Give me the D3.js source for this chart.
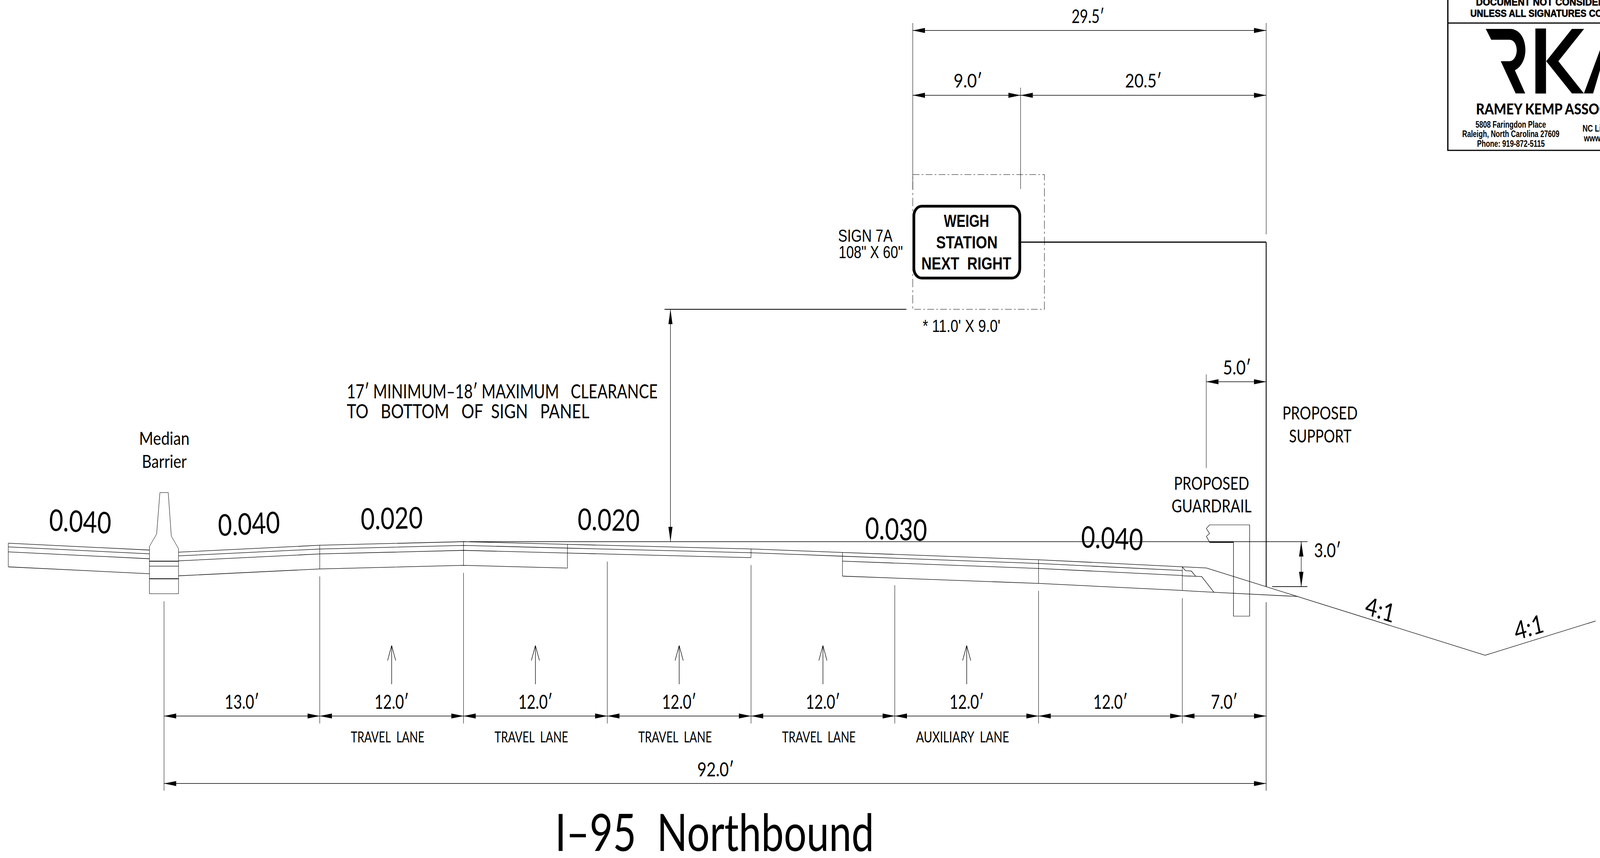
<!DOCTYPE html>
<html>
<head>
<meta charset="utf-8">
<style>
  html, body { margin: 0; padding: 0; background: #fff; overflow: hidden; width: 100%; height: 100%; }
  /* drawn in reference pixels, the viewBox maps them onto whatever window we really get */
  svg { display: block; width: 100vw; height: 100vh; }
  path, line, rect { vector-effect: non-scaling-stroke; }
  rect.dash { vector-effect: none; }
  text { white-space: pre; fill: #000; }
</style>
<script src="https://cdn.jsdelivr.net/npm/d3@7"></script>
</head>
<body>
<svg id="chart" viewBox="0 0 5126 2197" preserveAspectRatio="none"></svg>
<script>
// all lengths below are in feet
const laneWidths = [13, 12, 12, 12, 12, 12, 12, 7]
const laneNames = ['', 'TRAVEL  LANE', 'TRAVEL  LANE', 'TRAVEL  LANE', 'TRAVEL  LANE', 'AUXILIARY  LANE', '', '']
const arrowLanes = [1, 2, 3, 4, 5]
const extensionTops = [-3.98, -2.32, -2.08, -1.33, -1.56, -2.91, -3.28, -3.77, -4.05]

const crossSlopes = [0.04, 0.04, 0.02, 0.02, 0.03, 0.04]
const sideSlopes = ['4:1', '4:1']

const signWidth = 9
const supportOffset = 29.5
const guardrailOffset = 5
const slopeDrop = 3

const leftStations = [-13, -1.22]
const leftTop = [-0.1, -0.56]
const paveStations = [1.21, 13, 25, 33.67, 49, 56.63, 73, 85]
const paveTop = [-0.7, -0.24, 0, -0.18, -0.487, -0.72, -1.206, -1.675]
const layerDepths = [0.25, 0.58, 1.58]

const groundStations = [85, 87.01, 110.27, 119.5]
const groundElev = [-1.675, -1.754, -7.58, -5.29]
const shoulderEdges = [
    [[85, -1.675], [85.26, -1.936]],
    [[85.26, -1.936], [85.75, -1.96], [86.12, -2.31]],
    [[85, -2.275], [86.62, -2.327], [87.64, -3.38]],
    [[85, -3.26], [87.64, -3.38], [94.66, -3.66]]
]

const barrierStations = [-0.344, 0.352, 0.607, 1.21, 1.21, -1.22, -1.22, -0.617]
const barrierElev = [3.275, 3.275, 0.373, -0.469, -3.473, -3.473, -0.32, 0.513]
const barrierJoints = [-1.303, -1.634, -2.475]

const blockoutStations = [89.27, 87.27, 87.01, 87.27, 87.01, 87.27, 90.62, 90.62, 89.27, 89.27]
const blockoutElev = [-0.03, -0.03, 0.35, 0.55, 0.88, 1.12, 1.12, -4.97, -4.97, -0.03]

const signText = ['WEIGH', 'STATION', 'NEXT  RIGHT']

const PX_PER_FT = 38.38
const x = d3.scaleLinear().domain([0, 92]).range([525.5, 4056.5])
const y = d3.scaleLinear().domain([0, -10]).range([1387, 1387 + PX_PER_FT * 10])

const svg = d3.select('#chart')
const g = svg.append('g').attr('fill', 'none').attr('stroke', '#000')

const stations = [0, ...d3.cumsum(laneWidths)]
const ftLabel = d => d3.format('.1f')(d) + '\u2032'
const line = d3.line().x(d => x(d[0])).y(d => y(d[1]))

function seg(x1, y1, x2, y2, w = 1.2) {
    g.append('line')
        .attr('x1', x1).attr('y1', y1).attr('x2', x2).attr('y2', y2)
        .attr('stroke-width', w)
}

function poly(points, w = 1.3) {
    g.append('path').attr('d', line(points)).attr('stroke-width', w)
}

// arrowhead with its tip on (tx, ty), pointing along (dx, dy)
function head(tx, ty, dx, dy, len = 39, half = 6.4) {
    const bx = tx - dx * len, by = ty - dy * len
    const pts = [[tx, ty], [bx - dy * half, by + dx * half], [bx + dy * half, by - dx * half]]
    svg.append('path')
        .attr('d', d3.line()(pts) + 'Z')
        .attr('fill', '#000')
}

function hDim(x0, x1, yy) {
    seg(x0, yy, x1, yy, 1.5)
    head(x0, yy, -1, 0)
    head(x1, yy, 1, 0)
}

// text squeezed into a known run, the drawing font is a narrow CAD one
function label(str, x0, x1, base, cap, opt = {}) {
    const ratio = opt.ratio || 0.72
    svg.append('text')
        .attr('x', x0).attr('y', base)
        .attr('font-family', opt.font || 'Lato')
        .attr('font-weight', opt.weight || 400)
        .attr('font-size', cap / ratio)
        .attr('textLength', x1 - x0)
        .attr('lengthAdjust', 'spacingAndGlyphs')
        .text(str)
}

function tilted(str, cx, cy, w, cap, deg) {
    svg.append('text')
        .attr('transform', `translate(${cx},${cy}) rotate(${deg})`)
        .attr('x', -w / 2).attr('y', cap / 2)
        .attr('font-family', 'Lato')
        .attr('font-size', cap / 0.72)
        .attr('textLength', w)
        .attr('lengthAdjust', 'spacingAndGlyphs')
        .text(str)
}

const arial = { font: 'Liberation Sans', ratio: 0.716 }
const arialBold = { font: 'Liberation Sans', ratio: 0.716, weight: 700 }

// pavement, left of the barrier
const leftPts = d3.zip(leftStations, leftTop)
poly(leftPts)
layerDepths.forEach(dp => poly(leftPts.map(p => [p[0], p[1] - dp])))
poly([[leftStations[0], leftTop[0]], [leftStations[0], leftTop[0] - layerDepths[2]]], 1)

// pavement, right of the barrier
const pave = d3.zip(paveStations, paveTop)
poly(pave)
poly(pave.map(p => [p[0], p[1] - layerDepths[0]]))
poly(pave.slice(0, 5).map(p => [p[0], p[1] - layerDepths[1]]))
poly(pave.slice(5).map(p => [p[0], p[1] - layerDepths[1]]))
poly(pave.slice(0, 4).map(p => [p[0], p[1] - layerDepths[2]]))
poly(pave.slice(5).map(p => [p[0], p[1] - layerDepths[2]]))
pave.slice(1).forEach((p, i) => {
    const dp = paveStations[i + 1] === 49 ? layerDepths[1] : layerDepths[2]
    poly([p, [p[0], p[1] - dp]], 1)
})

// side slope and shoulder wedge
poly(d3.zip(groundStations, groundElev))
shoulderEdges.forEach(e => poly(e))

// median barrier
g.append('path')
    .attr('d', line(d3.zip(barrierStations, barrierElev)) + 'Z')
    .attr('fill', '#fff')
    .attr('stroke-width', 1)
barrierJoints.forEach((e, i) => poly([[-1.22, e], [1.21, e]], i === 1 ? 1.2 : 2))

// guardrail post and blockout
poly(d3.zip(blockoutStations, blockoutElev), 1.2)
poly([[87.27, -0.03], [89.27, -0.03]], 3)

// reference level across the roadway
poly([[25.5, 0], [x.invert(4189), 0]], 1.6)

// extension lines from the pavement down to the dimension rows
stations.forEach((s, i) => {
    const bottom = i === 0 || i === stations.length - 1 ? 2024.6 : 1852.5
    seg(x(s), y(extensionTops[i]), x(s), bottom, 1)
})

// lane dimensions
laneWidths.forEach((w, i) => {
    hDim(x(stations[i]), x(stations[i + 1]), 1833.4)
    const mid = x(stations[i] + w / 2)
    const half = w === 7 ? 43 : 55
    label(ftLabel(w), mid - half, mid + half, 1815, 36)
})
const totalWidth = d3.sum(laneWidths)
hDim(x(0), x(totalWidth), 2006.3)
label(ftLabel(totalWidth), 2234, 2351.5, 1987.7, 36)

// lane names and travel direction arrows
laneNames.forEach((n, i) => {
    if (!n) return
    const mid = x(stations[i] + laneWidths[i] / 2) - 13
    const half = n.startsWith('AUX') ? 149 : 118
    label(n, mid - half, mid + half, 1900.8, 27.4)
})
arrowLanes.forEach(i => {
    const mid = x(stations[i] + laneWidths[i] / 2)
    seg(mid, 1752, mid, 1653, 1.3)
    seg(mid, 1653, mid - 13, 1691.4, 1.3)
    seg(mid, 1653, mid + 13, 1691.4, 1.3)
})

// sign, support and its dimensions
const signL = x(totalWidth - supportOffset)
const signR = x(totalWidth - supportOffset + signWidth)
const supportX = x(totalWidth)
const dropY = y(groundElev[1] - (totalWidth - groundStations[1]) * 0.25)

seg(signL, 59, signL, 485, 1)
seg(supportX, 59, supportX, 600, 1)
seg(signR, 224.5, signR, 484, 1)
hDim(signL, supportX, 78)
hDim(signL, signR, 244)
hDim(signR, supportX, 244)
label(ftLabel(supportOffset), 3433, 3538, 59, 35)
label(ftLabel(signWidth), 3055, 3147, 224.5, 35)
label(ftLabel(supportOffset - signWidth), 3604.6, 3722, 224.5, 35)

g.append('rect')
    .attr('class', 'dash')
    .attr('x', signL).attr('y', 447)
    .attr('width', 3346 - signL).attr('height', 792 - 447)
    .attr('stroke-width', 1.2)
    .attr('stroke-dasharray', '21.5 7 5.5 7.5')

g.append('rect')
    .attr('x', signL + 3.5).attr('y', 528)
    .attr('width', signR - signL - 6).attr('height', 184)
    .attr('rx', 25)
    .attr('fill', '#fff')
    .attr('stroke-width', 7)

seg(signR, 620, supportX, 620, 3)
seg(supportX, 620, supportX, dropY, 2.2)
seg(supportX, 1542, supportX, 2024.6, 1)

label(signText[0], 3024, 3169, 581, 32, arialBold)
label(signText[1], 2999, 3196, 636, 32, arialBold)
label(signText[2], 2952, 3240, 690, 32, arialBold)

label('SIGN 7A', 2685, 2859.3, 619.3, 32, arial)
label('108" X 60"', 2687, 2892.7, 660.7, 32, arial)
label("* 11.0' X 9.0'", 2956, 3205, 850, 32, arial)

// clearance dimension
seg(2129, 792, 2904, 792, 1.8)
seg(2148, 792, 2148, y(0), 1.2)
head(2148, 792, 0, -1, 38, 6.5)
head(2148, y(0), 0, 1, 38, 6.5)
label('17\u2032 MINIMUM\u201318\u2032 MAXIMUM   CLEARANCE', 1111, 2107, 1020, 36)
label('TO   BOTTOM   OF  SIGN   PANEL', 1111, 1888, 1071, 36)

// guardrail offset dimension
const guardX = x(totalWidth - guardrailOffset)
seg(guardX, 958.7, guardX, 1198.5, 1)
hDim(guardX, supportX, 977.5)
label(ftLabel(guardrailOffset), 3918, 4008, 958.7, 36)

// drop to the side slope
seg(4075.6, dropY, 4188.6, dropY, 1.8)
seg(4168.8, y(0), 4168.8, y(-slopeDrop), 1.2)
head(4168.8, y(0), 0, -1, 38, 7)
head(4168.8, y(-slopeDrop), 0, 1, 38, 7)
label(ftLabel(slopeDrop), 4210, 4296, 1427, 36)

// notes
label('Median', 445.6, 607, 1139, 34)
label('Barrier', 454.7, 598, 1198, 34)
label('PROPOSED', 4108.6, 4349.6, 1074.5, 34)
label('SUPPORT', 4130, 4330, 1133, 34)
label('PROPOSED', 3761, 4002, 1254, 34)
label('GUARDRAIL', 3753.6, 4009.6, 1312, 34)

// cross slopes, tilted with the pavement
const slopeFmt = d3.format('.3f')
const slopeSpots = [[257, 1335, 1], [797.5, 1341, -1], [1255, 1327, -1], [1950, 1331, 1], [2871, 1355, 1], [3563, 1378, 1]]
crossSlopes.forEach((s, i) => {
    const [cx, cy, sign] = slopeSpots[i]
    tilted(slopeFmt(s), cx, cy, 199, 55, sign * Math.atan(s) * 180 / Math.PI)
})
tilted(sideSlopes[0], 4422, 1561, 95, 47, 14)
tilted(sideSlopes[1], 4898, 1606, 95, 47, -14)

label('I\u201395  Northbound', 1778, 2800, 2178.8, 95)

// title block, runs off the page on the right
const tb = svg.append('g')
tb.append('path')
    .attr('d', 'M4638.5,0V385H5126M4638.5,59H5126')
    .attr('fill', 'none').attr('stroke', '#000').attr('stroke-width', 3.2)
tb.append('path')
    .attr('d', 'M4760,74H4837.7C4868,74 4887,98 4887,128C4887,152 4873,172 4853.3,180L4886.4,239.3H4855.8L4808,156.7H4836C4849,156.7 4859.2,144 4859.2,128.3C4859.2,113 4849,101.7 4836,101.7H4777.4Z')
tb.append('path').attr('d', 'M4919,73H4953V239.5H4919Z')
tb.append('path').attr('d', 'M5075,74H5036L4953.6,156.7L5036,239.3H5074.4L4992.6,156.7Z')
tb.append('path').attr('d', 'M5074.4,239.3H5104L5165,74H5151Z')

function blockText(str, xx, base, size, weight, family, extra = {}) {
    const t = tb.append('text')
        .attr('x', xx).attr('y', base)
        .attr('font-family', family)
        .attr('font-weight', weight)
        .attr('font-size', size)
        .text(str)
    Object.entries(extra).forEach(([k, v]) => t.attr(k, v))
}

const heavy = { stroke: '#000', 'stroke-width': 0.8, lengthAdjust: 'spacingAndGlyphs' }
blockText('DOCUMENT NOT CONSIDERED FINAL', 4728.7, 14, 25, 700, 'Liberation Sans', { ...heavy, textLength: 552 })
blockText('UNLESS ALL SIGNATURES COMPLETED', 4710.6, 43.3, 25, 700, 'Liberation Sans', { ...heavy, textLength: 560 })
blockText('RAMEY KEMP ASSOCIATES', 4728.7, 292.7, 37.5, 900, 'Lato', { textLength: 535, lengthAdjust: 'spacingAndGlyphs' })

label('5808 Faringdon Place', 4727, 4953, 326.7, 16.5, arialBold)
label('Raleigh, North Carolina 27609', 4684.5, 4996, 351, 16.5, arialBold)
label('Phone: 919-872-5115', 4732, 4949, 375.7, 16.5, arialBold)
blockText('NC License', 5070, 336.7, 23, 700, 'Liberation Sans')
blockText('www.rameykemp.com', 5074.4, 361.7, 23, 700, 'Liberation Sans')
</script>
</body>
</html>
